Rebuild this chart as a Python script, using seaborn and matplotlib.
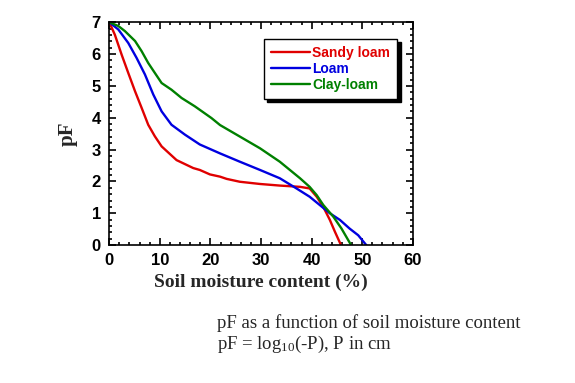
import numpy as np
import pandas as pd
import matplotlib
matplotlib.use("Agg")
import matplotlib.pyplot as plt
from matplotlib.ticker import MultipleLocator
import seaborn as sns

# soil moisture content (%) and pF
sandy_x = [0, 1.1, 2.45, 3.75, 5.1, 6.4, 7.7, 9.0, 10.35, 13.3, 16.6, 17.9, 19.9, 21.9,
           23.2, 25.8, 29.8, 33.7, 37.7, 39.6, 41.0, 42.3, 43.6, 44.6, 45.8]
sandy_y = [7.0, 6.61, 5.98, 5.41, 4.83, 4.31, 3.78, 3.42, 3.1, 2.67, 2.42, 2.36, 2.22, 2.15,
           2.08, 1.99, 1.92, 1.87, 1.83, 1.78, 1.52, 1.2, 0.79, 0.42, 0.0]

loam_x = [0, 1.8, 3.75, 5.4, 7.05, 8.7, 10.35, 12.3, 14.95, 17.9, 21.9, 25.8, 29.8, 33.7,
          37.0, 39.6, 41.6, 43.6, 45.6, 47.5, 49.2, 50.8]
loam_y = [7.0, 6.77, 6.35, 5.88, 5.36, 4.73, 4.2, 3.78, 3.47, 3.16, 2.88, 2.62, 2.36, 2.1,
          1.78, 1.52, 1.26, 1.0, 0.79, 0.52, 0.31, 0.0]

clay_x = [0, 1.8, 3.1, 5.1, 6.4, 7.7, 9.0, 10.35, 12.3, 14.3, 16.9, 20.2, 21.9, 25.8, 29.8,
          33.7, 37.7, 39.6, 41.0, 42.3, 44.3, 45.9, 47.8]
clay_y = [7.0, 6.88, 6.72, 6.41, 6.09, 5.72, 5.41, 5.09, 4.88, 4.62, 4.36, 3.99, 3.77, 3.41,
          3.04, 2.62, 2.1, 1.83, 1.57, 1.26, 0.89, 0.52, 0.0]

names = ["Sandy loam", "Loam", "Clay-loam"]
colors = ["#e00000", "#0000e0", "#008000"]

df = pd.concat([
    pd.DataFrame({"x": sandy_x, "y": sandy_y, "soil": names[0]}),
    pd.DataFrame({"x": loam_x, "y": loam_y, "soil": names[1]}),
    pd.DataFrame({"x": clay_x, "y": clay_y, "soil": names[2]}),
])

sns.set_style("ticks")
plt.rcParams["font.family"] = ["Liberation Sans", "DejaVu Sans"]
plt.rcParams["mathtext.fontset"] = "custom"
plt.rcParams["mathtext.rm"] = "Liberation Serif"

fig = plt.figure(figsize=(5.75, 3.83), dpi=100)
ax = fig.add_axes([0.190, 0.360, 0.528, 0.582])

sns.lineplot(data=df, x="x", y="y", hue="soil", palette=dict(zip(names, colors)),
             sort=False, estimator=None, linewidth=1.7, ax=ax)

ax.set_xlim(0, 60)
ax.set_ylim(0, 7)
ax.xaxis.set_major_locator(MultipleLocator(10))
ax.xaxis.set_minor_locator(MultipleLocator(2))
ax.yaxis.set_major_locator(MultipleLocator(1))
ax.yaxis.set_minor_locator(MultipleLocator(0.2))
ax.tick_params(which="both", direction="in", top=True, right=True, width=1.2, colors="black")
ax.tick_params(which="major", length=5, labelsize=12, pad=6)
ax.tick_params(which="minor", length=2.5)
for lab in ax.get_xticklabels() + ax.get_yticklabels():
    lab.set_fontweight("bold")
for s in ax.spines.values():
    s.set_linewidth(1.2)
    s.set_color("black")

ax.set_xlabel("Soil moisture content (%)", family="Liberation Serif", fontweight="bold",
              fontsize=14, labelpad=4)
ax.set_ylabel("pF", family="Liberation Serif", fontweight="bold", fontsize=15, labelpad=10)

leg = ax.legend(title=None, loc="upper left", bbox_to_anchor=(0.509, 0.925), borderaxespad=0,
                frameon=True, fancybox=False, edgecolor="black", framealpha=1,
                shadow={"color": "black", "alpha": 1, "ox": 2.5, "oy": -2.5},
                prop={"weight": "bold", "size": 10}, handlelength=2.8, handletextpad=0.2,
                labelspacing=0.15, borderpad=0.5)
leg.get_frame().set_linewidth(1.0)
for txt, c in zip(leg.get_texts(), colors):
    txt.set_color(c)

fig.text(0.378, 0.143, "pF as a function of soil moisture content",
         family="Liberation Serif", fontsize=13.5)
fig.text(0.378, 0.088, r"pF = log$\mathrm{_{10}}$(-P), P in cm",
         family="Liberation Serif", fontsize=13.5)

fig.savefig("out.png", dpi=100)
